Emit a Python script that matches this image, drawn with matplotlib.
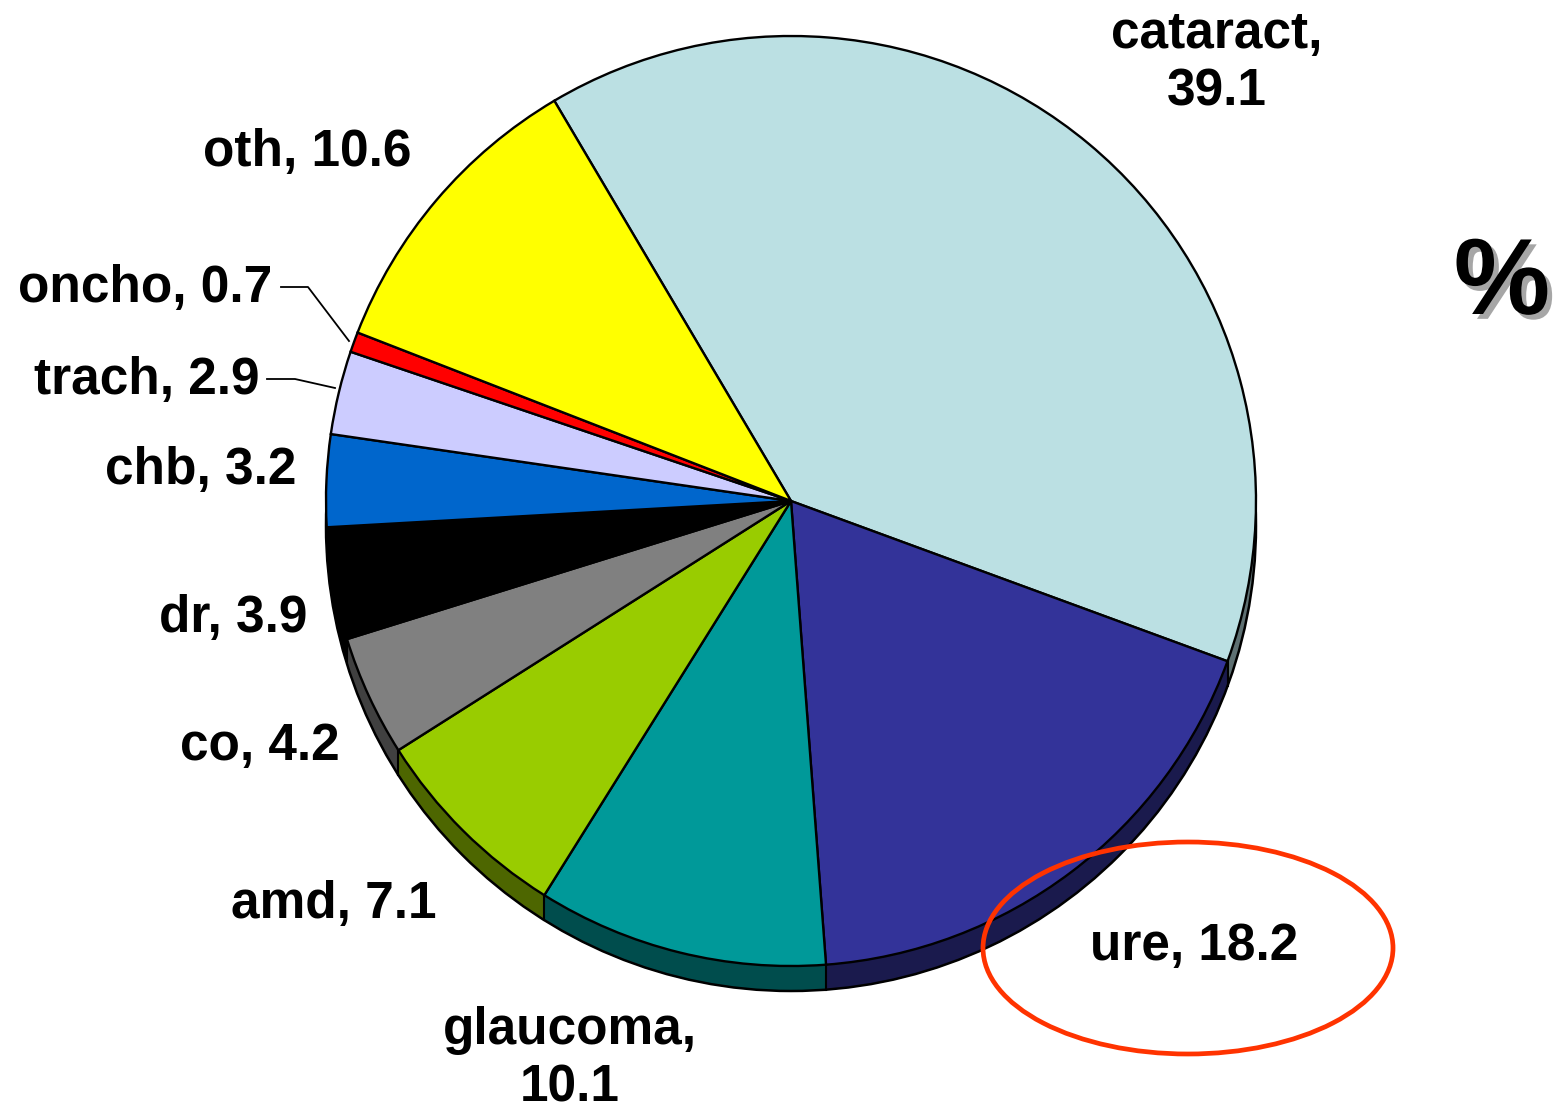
import numpy as np
import matplotlib
matplotlib.use("Agg")
import matplotlib.pyplot as plt
import matplotlib.patheffects as pe
from matplotlib.patches import Circle, Ellipse
from matplotlib.colors import to_rgb

# data (clockwise from the top)
causes = ["cataract", "ure", "glaucoma", "amd", "co", "dr", "chb", "trach", "oncho", "oth"]
shares = [39.1, 18.2, 10.1, 7.1, 4.2, 3.9, 3.2, 2.9, 0.7, 10.6]
colors = ["#BBE0E3", "#333399", "#009999", "#99CC00", "#808080",
          "#000000", "#0066CC", "#CCCCFF", "#FF0000", "#FFFF00"]

W, H = 1568, 1113
CX, CY, R = 791, 501, 465
DEPTH = 25
START = -120.6  # y axis is flipped, so this is visually 120.6 deg going clockwise

FONT = "Liberation Sans"

fig = plt.figure(figsize=(W / 100, H / 100), dpi=100)
ax = fig.add_axes([0, 0, 1, 1])

# side of the 3d pie: stacked darker copies
dark = [tuple(0.5 * c for c in to_rgb(col)) for col in colors]
for d in range(DEPTH, 0, -1):
    w, _ = ax.pie(shares, colors=dark, radius=R, center=(CX, CY + d),
                  startangle=START, counterclock=True,
                  wedgeprops=dict(linewidth=0.6, zorder=1))
    for p, c in zip(w, dark):
        p.set_edgecolor(c)
ax.add_patch(Circle((CX, CY + DEPTH), R, facecolor="none", edgecolor="black",
                    linewidth=1.8, zorder=1.5))

# vertical edges on the side where slices meet
bounds = START + np.cumsum([0] + shares) * 3.6
for a in bounds:
    t = np.deg2rad(a)
    x, y = CX + R * np.cos(t), CY + R * np.sin(t)
    if y > CY:
        ax.plot([x, x], [y, y + DEPTH], color="black", lw=1.5, zorder=1.6)

# top surface
ax.pie(shares, colors=colors, radius=R, center=(CX, CY),
       startangle=START, counterclock=True,
       wedgeprops=dict(edgecolor="black", linewidth=1.7, zorder=2))

ax.set_xlim(0, W)
ax.set_ylim(H, 0)
ax.set_aspect("equal")
ax.axis("off")

tk = dict(fontfamily=FONT, fontweight="bold", fontsize=37, color="black",
          va="center", zorder=5)

ax.text(1217, 63, f"{causes[0]},\n{shares[0]}", ha="center", linespacing=1.22, **tk)
ax.text(412, 152, f"{causes[9]}, {shares[9]}", ha="right", **tk)
ax.text(272, 289, f"{causes[8]}, {shares[8]}", ha="right", **tk)
ax.text(260, 380, f"{causes[7]}, {shares[7]}", ha="right", **tk)
ax.text(296, 471, f"{causes[6]}, {shares[6]}", ha="right", **tk)
ax.text(307, 618, f"{causes[5]}, {shares[5]}", ha="right", **tk)
ax.text(340, 746, f"{causes[4]}, {shares[4]}", ha="right", **tk)
ax.text(437, 904, f"{causes[3]}, {shares[3]}", ha="right", **tk)
ax.text(1090, 946, f"{causes[1]}, {shares[1]}", ha="left", **tk)
ax.text(570, 1059, f"{causes[2]},\n{shares[2]}", ha="center", linespacing=1.22, **tk)

# leader lines for the thin slices
ax.plot([281, 308, 349], [287, 287, 341], color="black", lw=1.3, zorder=3)
ax.plot([267, 295, 335], [379, 379, 388], color="black", lw=1.3, zorder=3)

# percent sign with drop shadow
ax.text(1502, 286, "%", fontfamily=FONT, fontweight="bold", fontsize=78,
        color="black", ha="center", va="center", zorder=5,
        path_effects=[pe.withSimplePatchShadow(offset=(3.5, -3.5),
                                               shadow_rgbFace="#A6A6A6",
                                               alpha=1.0)])

# highlight around ure
ax.add_patch(Ellipse((1188, 948), 410, 212, facecolor="none",
                     edgecolor="#FF3300", linewidth=3.4, zorder=6))

fig.savefig("out.png", dpi=100)
